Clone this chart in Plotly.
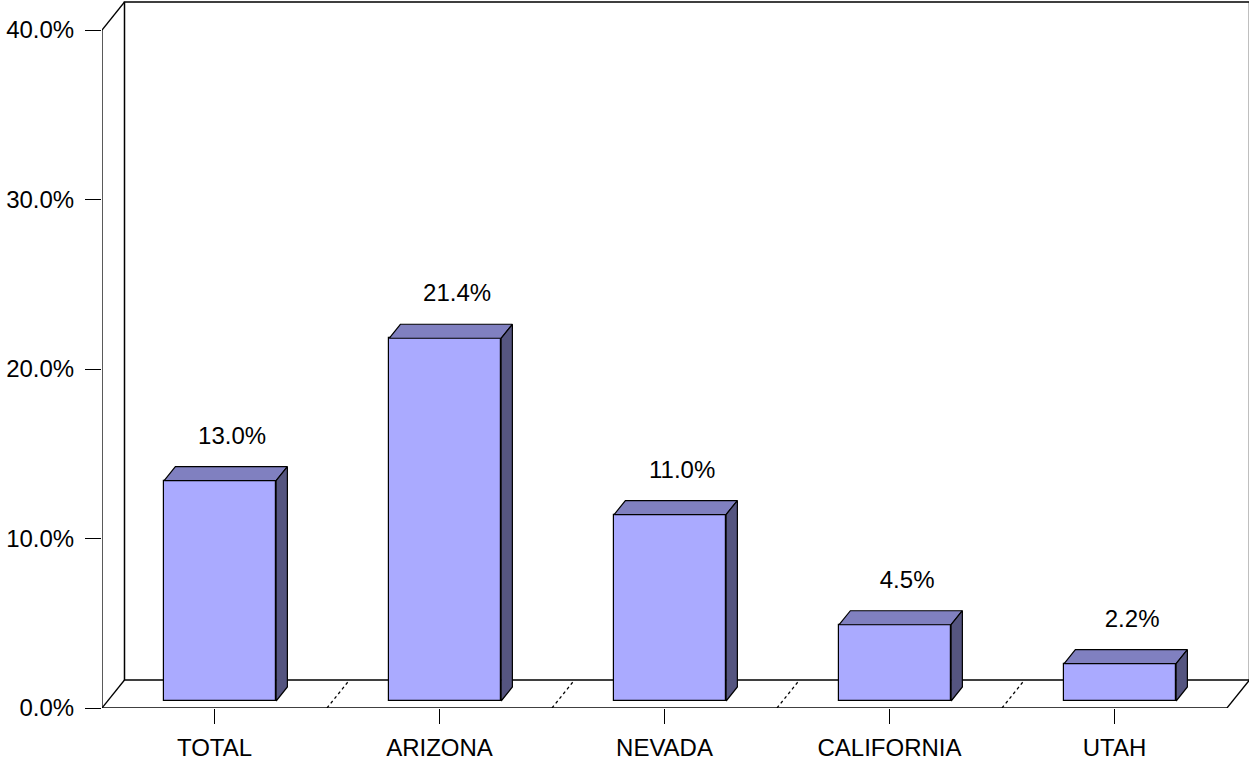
import plotly.graph_objects as go

categories = ["TOTAL", "ARIZONA", "NEVADA", "CALIFORNIA", "UTAH"]
values = [13.0, 21.4, 11.0, 4.5, 2.2]
y_ticks = [0, 10, 20, 30, 40]
y_tick_labels = ["0.0%", "10.0%", "20.0%", "30.0%", "40.0%"]

FRONT = "#AAAAFF"
TOP = "#8080C0"
SIDE = "#555580"

W, H = 1249, 761
ML, MR, MT, MB = 102, 0, 0, 53
PX_PER_CAT = 225.0
PX_PER_PCT = 16.95
plot_w = W - ML - MR
plot_h = H - MT - MB
x_range = [-0.5, -0.5 + plot_w / PX_PER_CAT]
y_range = [0, plot_h / PX_PER_PCT]

# full depth of the 3-D box, in data units
DX = 22.5 / PX_PER_CAT
DY = 28.0 / PX_PER_PCT
BAR_W = 112.0 / PX_PER_CAT
YMAX = 40.0
n = len(categories)

fig = go.Figure()
line = dict(color="black", width=1.3)

shapes = []
# back wall
shapes.append(dict(type="rect", xref="x", yref="y", x0=-0.5 + DX, x1=n - 0.5 + DX,
                   y0=DY, y1=YMAX + DY, line=dict(color="black", width=1.5), layer="below"))
# left wall diagonal top
shapes.append(dict(type="line", xref="x", yref="y", x0=-0.5, y0=YMAX, x1=-0.5 + DX, y1=YMAX + DY, line=line))
# left axis line
shapes.append(dict(type="line", xref="x", yref="y", x0=-0.5, y0=0, x1=-0.5, y1=YMAX, line=line))
# floor front edge
shapes.append(dict(type="line", xref="x", yref="y", x0=-0.5, y0=0, x1=n - 0.5, y1=0, line=line))
# floor left and right diagonals
shapes.append(dict(type="line", xref="x", yref="y", x0=-0.5, y0=0, x1=-0.5 + DX, y1=DY, line=line))
shapes.append(dict(type="line", xref="x", yref="y", x0=n - 0.5, y0=0, x1=n - 0.5 + DX, y1=DY, line=line))
# dotted category separators on the floor
for k in range(1, n):
    shapes.append(dict(type="line", xref="x", yref="y", x0=k - 0.5, y0=0, x1=k - 0.5 + DX, y1=DY,
                       line=dict(color="black", width=1.3, dash="dot")))

fig.update_layout(shapes=shapes)

# bars: front faces
bx = [i + 0.25 * DX for i in range(n)]
base = 0.25 * DY
fig.add_trace(go.Bar(x=bx, y=values, base=[base] * n, width=BAR_W,
                     marker=dict(color=FRONT, line=dict(color="black", width=1.2)),
                     hoverinfo="skip", showlegend=False))

dx_b = 0.5 * DX
dy_b = 0.5 * DY
for i, v in enumerate(values):
    xl = bx[i] - BAR_W / 2
    xr = bx[i] + BAR_W / 2
    yb = base
    yt = base + v
    # top face
    fig.add_trace(go.Scatter(x=[xl, xr, xr + dx_b, xl + dx_b, xl],
                             y=[yt, yt, yt + dy_b, yt + dy_b, yt],
                             fill="toself", fillcolor=TOP, mode="lines",
                             line=dict(color="black", width=1.2), hoverinfo="skip", showlegend=False))
    # side face
    fig.add_trace(go.Scatter(x=[xr, xr + dx_b, xr + dx_b, xr, xr],
                             y=[yb, yb + dy_b, yt + dy_b, yt, yb],
                             fill="toself", fillcolor=SIDE, mode="lines",
                             line=dict(color="black", width=1.2), hoverinfo="skip", showlegend=False))

# data labels
lbl_x = [bx[i] + 12.0 / PX_PER_CAT for i in range(n)]
lbl_y = [base + v + dy_b + 29.0 / PX_PER_PCT for v in values]
fig.add_trace(go.Scatter(x=lbl_x, y=lbl_y, mode="text",
                         text=[f"{v:.1f}%" for v in values],
                         textfont=dict(family="Arial, Liberation Sans, sans-serif", size=24, color="black"),
                         textposition="middle center", hoverinfo="skip", showlegend=False,
                         cliponaxis=False))

fig.update_layout(
    width=W, height=H,
    margin=dict(l=ML, r=MR, t=MT, b=MB, pad=0),
    paper_bgcolor="white", plot_bgcolor="white",
    font=dict(family="Arial, Liberation Sans, sans-serif", size=24, color="black"),
    xaxis=dict(range=x_range, tickvals=list(range(n)), ticktext=categories,
               ticks="outside", ticklen=15, tickwidth=1.3, tickcolor="black",
               ticklabelstandoff=3,
               showgrid=False, zeroline=False, showline=False, fixedrange=True),
    yaxis=dict(range=y_range, tickvals=y_ticks, ticktext=y_tick_labels,
               ticks="outside", ticklen=16, tickwidth=1.3, tickcolor="black",
               ticklabelstandoff=6,
               showgrid=False, zeroline=False, showline=False, fixedrange=True),
    bargap=0,
)

fig.write_html("out.html", config={"displayModeBar": False},
               post_script="document.body.style.margin='0';")
